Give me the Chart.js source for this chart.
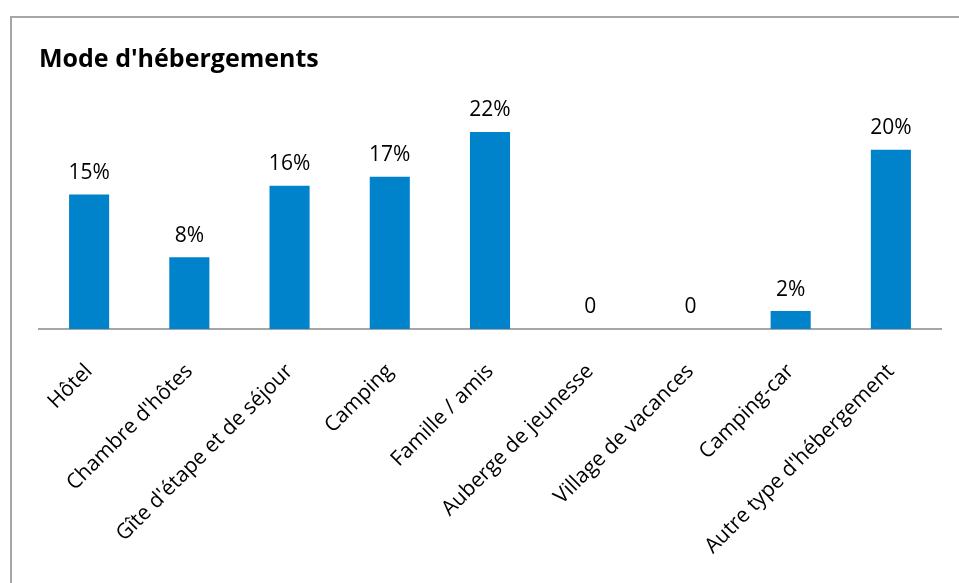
<!DOCTYPE html>
<html>
<head>
<meta charset="utf-8">
<script src="https://cdn.jsdelivr.net/npm/chart.js@4/dist/chart.umd.min.js"></script>
<style>
  html, body { margin: 0; padding: 0; background: #fff; overflow: hidden; }
  #frame {
    position: absolute; left: 10px; top: 16px;
    width: 1000px; height: 600px;
    border: 2px solid #a6a6a6;
  }
  #wrap { position: absolute; left: 0; top: 0; width: 959px; height: 583px; }
</style>
</head>
<body>
<div id="frame"></div>
<div id="wrap"><canvas id="chart"></canvas></div>
<script>
// Accommodation types and their share (%)
const categories = [
    'Hôtel', "Chambre d'hôtes", "Gîte d'étape et de séjour", 'Camping', 'Famille / amis',
    'Auberge de jeunesse', 'Village de vacances', 'Camping-car', "Autre type d'hébergement"
];
const shares = [15, 8, 16, 17, 22, 0, 0, 2, 20];
const shareLabels = ['15%', '8%', '16%', '17%', '22%', '0', '0', '2%', '20%'];

const BLUE = '#0083cb';
const FONT = "'Open Sans', sans-serif";

// Value text above each bar
const barLabels = {
    id: 'barLabels',
    afterDatasetsDraw(chart) {
        const ctx = chart.ctx;
        const meta = chart.getDatasetMeta(0);
        ctx.save();
        ctx.font = `500 21px ${FONT}`;
        ctx.fillStyle = '#000';
        ctx.textAlign = 'center';
        ctx.textBaseline = 'bottom';
        meta.data.forEach((bar, i) => {
            ctx.fillText(shareLabels[i], bar.x, bar.y - 11);
        });
        ctx.restore();
    }
};

new Chart(document.getElementById('chart'), {
    type: 'bar',
    data: {
        labels: categories,
        datasets: [{
            data: shares,
            backgroundColor: BLUE,
            borderWidth: 0,
            barPercentage: 0.4,
            categoryPercentage: 1
        }]
    },
    options: {
        responsive: true,
        maintainAspectRatio: false,
        animation: false,
        layout: { padding: { left: 39, right: 18, top: 0, bottom: 0 } },
        plugins: {
            legend: { display: false },
            tooltip: { enabled: false },
            title: {
                display: true,
                text: "Mode d'hébergements",
                align: 'start',
                color: '#000',
                font: { family: FONT, size: 25, weight: 'bold' },
                padding: { top: 45, bottom: 30 }
            }
        },
        scales: {
            x: {
                grid: { display: false },
                border: { display: true, color: '#a6a6a6', width: 2 },
                ticks: {
                    color: '#000',
                    font: { family: FONT, size: 21 },
                    minRotation: 45,
                    maxRotation: 45,
                    autoSkip: false,
                    padding: 22
                },
                afterFit(scale) { scale.height = 254; }
            },
            y: {
                display: false,
                min: 0,
                max: 25
            }
        }
    },
    plugins: [barLabels]
});
</script>
</body>
</html>
